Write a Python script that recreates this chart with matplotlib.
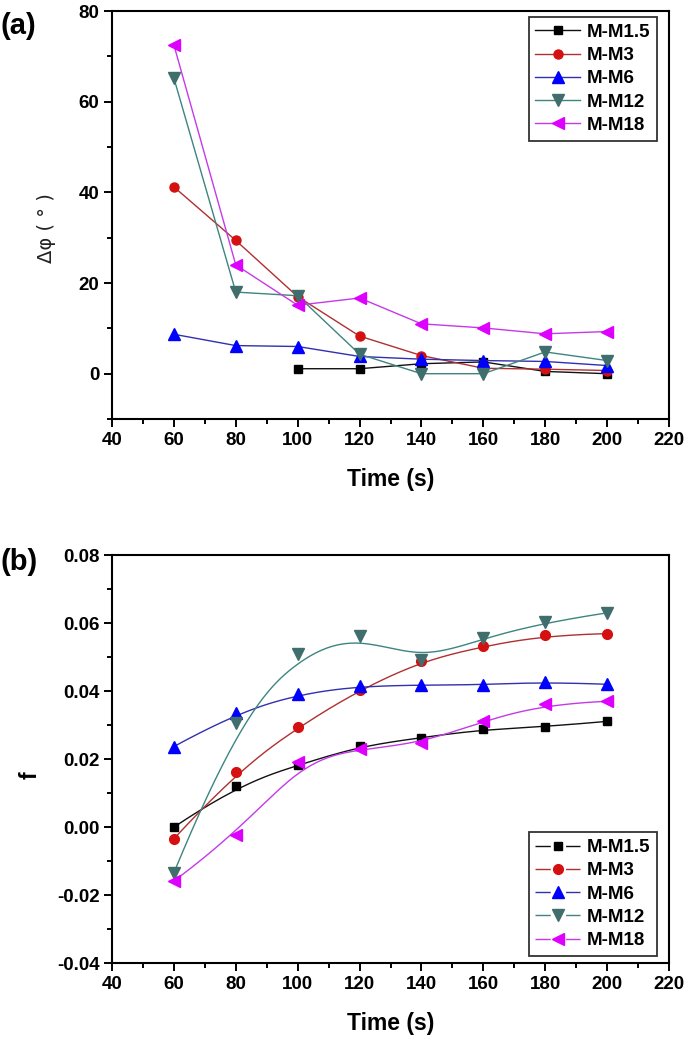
import numpy as np
import matplotlib
matplotlib.use("Agg")
import matplotlib.pyplot as plt
from matplotlib.ticker import MultipleLocator, FuncFormatter
from matplotlib.lines import Line2D

plt.rcParams['font.family'] = ['Liberation Sans', 'DejaVu Sans']
plt.rcParams['lines.scale_dashes'] = False

# ---------------- data ----------------
labels = ['M-M1.5', 'M-M3', 'M-M6', 'M-M12', 'M-M18']

time_a = [60, 80, 100, 120, 140, 160, 180, 200]
time_m15_a = [100, 120, 140, 160, 180, 200]
dphi_m15 = [1.1, 1.1, 2.2, 2.6, 0.5, 0.0]
dphi_m3 = [41.2, 29.4, 17.0, 8.3, 4.0, 1.2, 1.0, 0.7]
dphi_m6 = [8.7, 6.2, 6.0, 3.8, 3.2, 2.9, 2.7, 1.8]
dphi_m12 = [65.2, 18.0, 17.2, 4.3, 0.0, 0.0, 4.8, 2.9]
dphi_m18 = [72.5, 24.0, 15.1, 16.7, 11.0, 10.1, 8.8, 9.3]

time_b = [60, 80, 100, 120, 140, 160, 180, 200]
f_m15 = [0.0000, 0.0122, 0.0182, 0.0238, 0.0263, 0.0288, 0.0295, 0.0311]
f_m3 = [-0.0034, 0.0162, 0.0294, 0.0403, 0.0488, 0.0532, 0.0564, 0.0569]
f_m6 = [0.0237, 0.0336, 0.0392, 0.0414, 0.0418, 0.0418, 0.0427, 0.0420]
f_m12 = [-0.0134, 0.0307, 0.0510, 0.0561, 0.0491, 0.0556, 0.0602, 0.0630]
f_m18 = [-0.0158, -0.0024, 0.0193, 0.0229, 0.0247, 0.0312, 0.0362, 0.0370]

line_colors = ['#111111', '#b03030', '#3030b0', '#3d8580', '#c43ae8']
marker_colors = ['#000000', '#d41010', '#0000ff', '#3f6e6c', '#dd00ff']
markers = ['s', 'o', '^', 'v', '<']
msize_a = [5.5, 6.5, 8.5, 8.5, 8.5]
msize_b = [6, 7, 9, 9, 9]


def bspline(xs, ys, n=200):
    """Clamped uniform cubic B-spline using the data points as control points."""
    P = np.column_stack([xs, ys]).astype(float)
    k = 3
    m = len(P)
    inner = np.arange(1, m - k) / (m - k)
    knots = np.concatenate([np.zeros(k + 1), inner, np.ones(k + 1)])
    t = np.linspace(0, 1, n)
    t[-1] = 1 - 1e-12

    def N(i, p, tt):
        if p == 0:
            return np.where((knots[i] <= tt) & (tt < knots[i + 1]), 1.0, 0.0)
        a = 0.0
        d1 = knots[i + p] - knots[i]
        if d1 > 0:
            a = (tt - knots[i]) / d1 * N(i, p - 1, tt)
        b = 0.0
        d2 = knots[i + p + 1] - knots[i + 1]
        if d2 > 0:
            b = (knots[i + p + 1] - tt) / d2 * N(i + 1, p - 1, tt)
        return a + b

    B = np.array([N(i, k, t) for i in range(m)])
    C = B.T @ P
    return C[:, 0], C[:, 1]


fig = plt.figure(figsize=(6.88, 10.38), dpi=100)
ax1 = fig.add_axes([0.1628, 0.5963, 0.8096, 0.3931])
ax2 = fig.add_axes([0.1628, 0.0720, 0.8096, 0.3933])

TICK_FS = 13.5
LEG_FS = 13.5
LW = 1.0

# ---------- panel (a) ----------
series_a = [(time_m15_a, dphi_m15), (time_a, dphi_m3), (time_a, dphi_m6),
            (time_a, dphi_m12), (time_a, dphi_m18)]
for (xs, ys), lab, lc, mc, mk, ms in zip(series_a, labels, line_colors, marker_colors,
                                         markers, msize_a):
    ax1.plot(xs, ys, color=lc, lw=LW, marker=mk, ms=ms, mfc=mc, mec=mc, label=lab)

ax1.set_xlim(40, 220)
ax1.set_ylim(-10, 80)
ax1.xaxis.set_major_locator(MultipleLocator(20))
ax1.xaxis.set_minor_locator(MultipleLocator(10))
ax1.yaxis.set_major_locator(MultipleLocator(20))
ax1.yaxis.set_minor_locator(MultipleLocator(10))
ax1.set_xlabel('Time (s)', fontsize=16.5, fontweight='bold', labelpad=14)
ax1.set_ylabel('Δφ ( ° )', fontsize=14, family=['DejaVu Sans'], color='#222222')
ax1.yaxis.set_label_coords(-0.100, 0.468)
leg1 = ax1.legend(loc='upper right', prop={'weight': 'bold', 'size': LEG_FS},
                  frameon=True, fancybox=False, edgecolor='black', borderpad=0.35,
                  labelspacing=0.33, handlelength=2.4, handletextpad=0.35,
                  borderaxespad=0, bbox_to_anchor=(0.978, 0.985))
leg1.get_frame().set_linewidth(1.3)
fig.text(0.0, 0.975, '(a)', fontsize=21, fontweight='bold', ha='left', va='center')

# ---------- panel (b) ----------
series_b = [f_m15, f_m3, f_m6, f_m12, f_m18]
handles_b = []
for ys, lab, lc, mc, mk, ms in zip(series_b, labels, line_colors, marker_colors,
                                   markers, msize_b):
    sx, sy = bspline(time_b, ys)
    ax2.plot(sx, sy, color=lc, lw=LW)
    ax2.plot(time_b, ys, ls='none', marker=mk, ms=ms, mfc=mc, mec=mc)
    h_line = Line2D([], [], color=lc, lw=LW, ls=(0, (11, 11, 11, 100)))
    h_mark = Line2D([], [], ls='none', marker=mk, ms=ms, mfc=mc, mec=mc)
    handles_b.append((h_line, h_mark))

ax2.set_xlim(40, 220)
ax2.set_ylim(-0.04, 0.08)
ax2.xaxis.set_major_locator(MultipleLocator(20))
ax2.xaxis.set_minor_locator(MultipleLocator(10))
ax2.yaxis.set_major_locator(MultipleLocator(0.02))
ax2.yaxis.set_minor_locator(MultipleLocator(0.01))
ax2.yaxis.set_major_formatter(FuncFormatter(lambda v, p: f'{v:.2f}'))
ax2.set_xlabel('Time (s)', fontsize=16.5, fontweight='bold', labelpad=14)
ax2.set_ylabel('f', fontsize=16.5, fontweight='bold')
ax2.yaxis.set_label_coords(-0.126, 0.46)
leg2 = ax2.legend(handles_b, labels, loc='lower right',
                  prop={'weight': 'bold', 'size': LEG_FS},
                  frameon=True, fancybox=False, edgecolor='black', borderpad=0.35,
                  labelspacing=0.33, handlelength=2.4, handletextpad=0.35,
                  borderaxespad=0, bbox_to_anchor=(0.9785, 0.018))
leg2.get_frame().set_linewidth(1.3)
fig.text(0.0, 0.4585, '(b)', fontsize=21, fontweight='bold', ha='left', va='center')

for ax in (ax1, ax2):
    for s in ax.spines.values():
        s.set_linewidth(1.5)
    ax.tick_params(which='both', direction='out', top=False, right=False, width=1.4)
    ax.tick_params(which='major', length=6, pad=3)
    ax.tick_params(which='minor', length=3.5)
    for lbl in ax.get_xticklabels() + ax.get_yticklabels():
        lbl.set_fontsize(TICK_FS)
        lbl.set_fontweight('bold')

fig.savefig('out.png', dpi=100)
